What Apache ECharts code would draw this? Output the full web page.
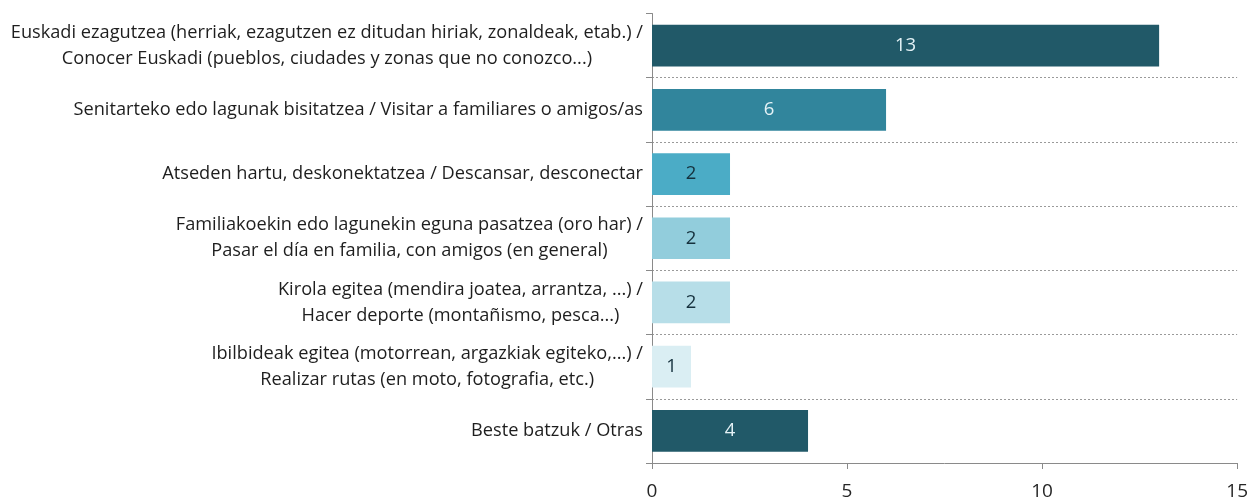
<!DOCTYPE html>
<html>
<head>
<meta charset="utf-8">
<script src="https://cdn.jsdelivr.net/npm/echarts@6/dist/echarts.min.js"></script>
<style>
  html, body { margin: 0; padding: 0; background: #fff; }
  #chart { width: 1251px; height: 501px; }
</style>
</head>
<body>
<div id="chart"></div>
<script>
// categories (top to bottom)
const categories = [
  'Euskadi ezagutzea (herriak, ezagutzen ez ditudan hiriak, zonaldeak, etab.) /\nConocer Euskadi (pueblos, ciudades y zonas que no conozco...)',
  'Senitarteko edo lagunak bisitatzea / Visitar a familiares o amigos/as',
  'Atseden hartu, deskonektatzea / Descansar, desconectar',
  'Familiakoekin edo lagunekin eguna pasatzea (oro har) /\nPasar el día en familia, con amigos (en general)',
  'Kirola egitea (mendira joatea, arrantza, ...) /\nHacer deporte (montañismo, pesca...)',
  'Ibilbideak egitea (motorrean, argazkiak egiteko,...) /\nRealizar rutas (en moto, fotografia, etc.)',
  'Beste batzuk / Otras'
]
const values = [13, 6, 2, 2, 2, 1, 4]
const xTicks = [0, 5, 10, 15]

// bar colours
const barColors = ['#215968', '#31859c', '#4bacc6', '#92cddc', '#b7dee8', '#daeef3', '#215968']
const labelColors = ['#e4f2f6', '#e4f2f6', '#15303c', '#15303c', '#15303c', '#15303c', '#e4f2f6']

const font = 'Open Sans'

const chart = echarts.init(document.getElementById('chart'))

chart.setOption({
  animation: false,
  backgroundColor: '#fff',
  grid: {
    left: 652,
    right: 12,
    top: 13.5,
    bottom: 36
  },
  xAxis: {
    type: 'value',
    min: xTicks[0],
    max: xTicks[xTicks.length - 1],
    interval: xTicks[1] - xTicks[0],
    axisLine: { show: true, lineStyle: { color: '#8a8a8a', width: 1 } },
    axisTick: { show: true, length: 6, lineStyle: { color: '#8a8a8a' } },
    axisLabel: { color: '#262626', fontSize: 19, fontFamily: font, margin: 19 },
    splitLine: { show: false }
  },
  yAxis: {
    type: 'category',
    inverse: true,
    data: categories,
    axisLine: { show: true, lineStyle: { color: '#8a8a8a', width: 1 } },
    axisTick: { show: true, length: 6, lineStyle: { color: '#8a8a8a' } },
    axisLabel: {
      margin: 9,
      align: 'right',
      // centre each line inside the right-aligned block
      formatter: v => v.split('\n').map(s => '{c|' + s + '}').join('\n'),
      rich: {
        c: {
          align: 'center',
          color: '#1e1e1e',
          fontSize: 18.2,
          fontFamily: font,
          lineHeight: 26
        }
      }
    },
    splitLine: {
      show: true,
      showMinLine: false,
      showMaxLine: false,
      lineStyle: { color: '#9a9a9a', type: [2, 2], width: 1 }
    }
  },
  series: [
    {
      type: 'bar',
      barCategoryGap: '35%',
      data: values.map((v, i) => ({
        value: v,
        itemStyle: { color: barColors[i] },
        label: { color: labelColors[i] }
      })),
      label: {
        show: true,
        position: 'inside',
        fontSize: 18.5,
        fontFamily: font
      }
    }
  ]
})
</script>
</body>
</html>
